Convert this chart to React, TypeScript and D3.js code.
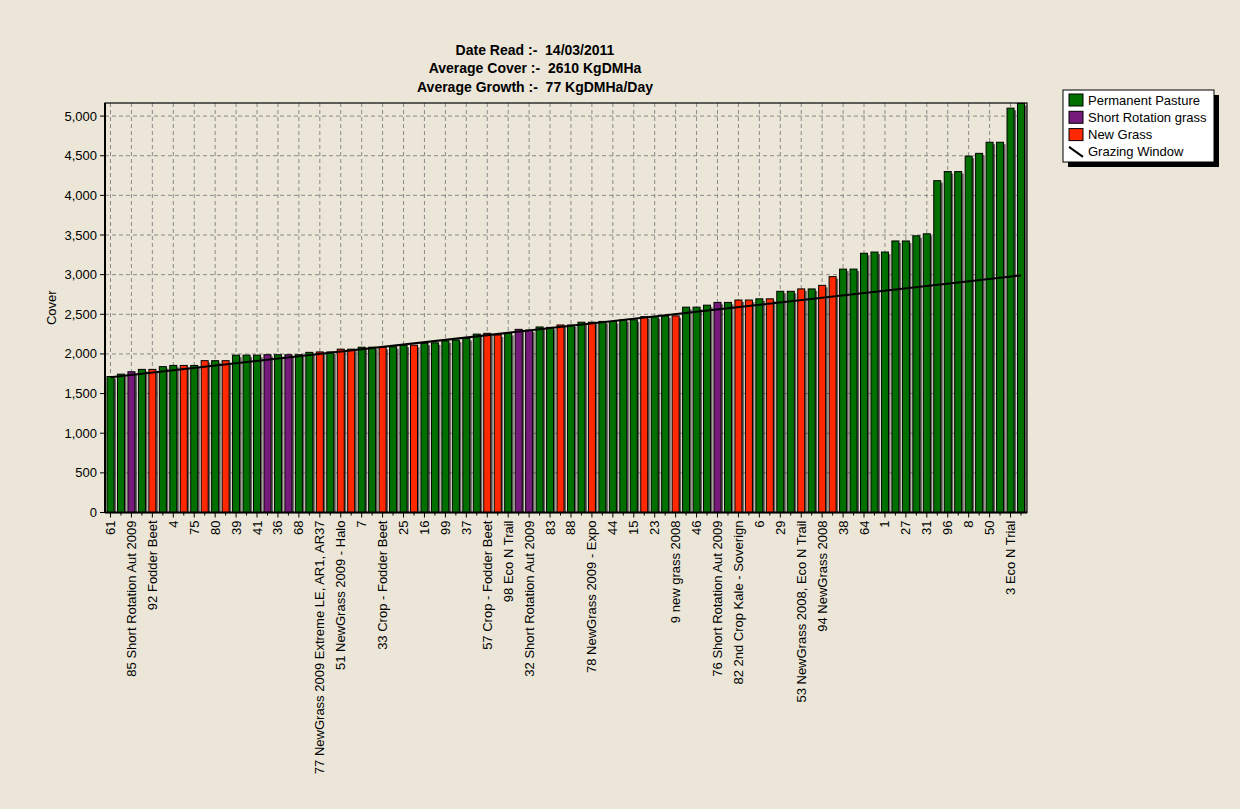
import React, {useRef, useEffect} from "react";
import * as d3 from "d3";

// bar heights, left to right (sorted by cover)
const covers = [
  1715, 1745, 1775, 1805, 1805, 1840, 1855, 1855, 1855, 1915,
  1915, 1915, 1985, 1985, 1985, 1990, 1990, 1990, 1990, 2020,
  2025, 2025, 2060, 2060, 2085, 2085, 2085, 2090, 2110, 2110,
  2135, 2140, 2165, 2175, 2195, 2250, 2260, 2240, 2260, 2310,
  2300, 2340, 2335, 2365, 2365, 2400, 2400, 2410, 2410, 2430,
  2430, 2470, 2470, 2480, 2480, 2590, 2590, 2615, 2650, 2650,
  2680, 2680, 2695, 2695, 2790, 2790, 2820, 2820, 2865, 2975,
  3070, 3070, 3270, 3285, 3285, 3425, 3425, 3490, 3515, 4185,
  4300, 4300, 4495, 4530, 4670, 4670, 5100, 5160,
];

// P = Permanent Pasture, S = Short Rotation grass, N = New Grass
const types = [
  "P", "P", "S", "P", "N", "P", "P", "N", "P", "N",
  "P", "N", "P", "P", "P", "S", "P", "S", "P", "P",
  "N", "P", "N", "N", "P", "P", "N", "P", "P", "N",
  "P", "P", "P", "P", "P", "P", "N", "N", "P", "S",
  "S", "P", "P", "N", "P", "P", "N", "P", "P", "P",
  "P", "N", "P", "P", "N", "P", "P", "P", "S", "P",
  "N", "N", "P", "N", "P", "P", "N", "P", "N", "N",
  "P", "P", "P", "P", "P", "P", "P", "P", "P", "P",
  "P", "P", "P", "P", "P", "P", "P", "P",
];

// only every second bar carries a label
const tickLabels = [
  "61", "85 Short Rotation Aut 2009", "92 Fodder Beet", "4", "75", "80", "39", "41", "36", "68",
  "77 NewGrass 2009 Extreme LE, AR1, AR37", "51 NewGrass 2009 - Halo", "7", "33 Crop - Fodder Beet", "25",
  "16", "99", "37", "57 Crop - Fodder Beet", "98 Eco N Trail",
  "32 Short Rotation Aut 2009", "83", "88", "78 NewGrass 2009 - Expo", "44",
  "15", "23", "9 new grass 2008", "46", "76 Short Rotation Aut 2009",
  "82 2nd Crop Kale - Soverign", "6", "29", "53 NewGrass 2008, Eco N Trail", "94 NewGrass 2008",
  "38", "64", "1", "27", "31", "96", "8", "50", "3 Eco N Trial",
];

const grazingIdx = [0, 87];
const grazingVals = [1705, 2990];

const yTicks = [0, 500, 1000, 1500, 2000, 2500, 3000, 3500, 4000, 4500, 5000];

const titleLines = [
  "Date Read :-  14/03/2011",
  "Average Cover :-  2610 KgDMHa",
  "Average Growth :-  77 KgDMHa/Day",
];

const legendItems = [
  {key: "P", label: "Permanent Pasture"},
  {key: "S", label: "Short Rotation grass"},
  {key: "N", label: "New Grass"},
  {key: "L", label: "Grazing Window"},
];

const typeColors: Record<string, string> = {
  P: "#007000",
  S: "#761a7c",
  N: "#ff2800",
};

const FONT = "Liberation Sans, Arial, sans-serif";
const BG = "#ebe6d7";

export default function App() {
  const svgRef = useRef<SVGSVGElement>(null);

  useEffect(() => {
    if (!svgRef.current) return;
    const svg = d3.select(svgRef.current);
    svg.selectAll("*").remove();

    const left = 105, right = 1027, top = 103, bottom = 512.5;
    const idx = covers.map((_, i) => i);

    const x = d3.scaleBand<number>().domain(idx).range([107, 1024.5]).paddingInner(0.33).paddingOuter(0);
    const y = d3.scaleLinear().domain([0, 5165]).range([bottom, top]);
    const cx = (i: number) => x(i)! + x.bandwidth() / 2;

    svg.append("rect").attr("width", 1240).attr("height", 809).attr("fill", BG);

    // title
    svg.selectAll(".title")
      .data(titleLines)
      .join("text")
      .attr("x", 535)
      .attr("y", (d, i) => 55 + i * 18.3)
      .attr("text-anchor", "middle")
      .style("font-family", FONT)
      .style("font-size", "14px")
      .style("font-weight", "bold")
      .style("white-space", "pre")
      .text((d) => d);

    // grid
    const g = svg.append("g");
    g.selectAll(".grid-y")
      .data(yTicks.filter((d) => d > 0))
      .join("line")
      .attr("x1", left).attr("x2", right)
      .attr("y1", (d) => y(d)).attr("y2", (d) => y(d))
      .attr("stroke", "#8a8a8a")
      .attr("stroke-dasharray", "4,3");
    g.selectAll(".grid-x")
      .data(idx.filter((i) => i % 2 === 0))
      .join("line")
      .attr("x1", (i) => cx(i)).attr("x2", (i) => cx(i))
      .attr("y1", top).attr("y2", bottom)
      .attr("stroke", "#8a8a8a")
      .attr("stroke-dasharray", "4,3");

    // bar shadows + bars
    g.selectAll(".shadow")
      .data(idx)
      .join("rect")
      .attr("x", (i) => x(i)! + 2)
      .attr("y", (i) => y(covers[i]) + 2)
      .attr("width", x.bandwidth())
      .attr("height", (i) => Math.max(0, bottom - y(covers[i]) - 2))
      .attr("fill", "#3a3a3a")
      .attr("opacity", 0.75);
    g.selectAll(".bar")
      .data(idx)
      .join("rect")
      .attr("x", (i) => x(i)!)
      .attr("y", (i) => y(covers[i]))
      .attr("width", x.bandwidth())
      .attr("height", (i) => bottom - y(covers[i]))
      .attr("fill", (i) => typeColors[types[i]])
      .attr("stroke", "#000")
      .attr("stroke-width", 1);

    // grazing window
    const line = d3.line<number>().x((d, k) => cx(grazingIdx[k])).y((d) => y(d));
    g.append("path")
      .attr("d", line(grazingVals))
      .attr("fill", "none")
      .attr("stroke", "#000")
      .attr("stroke-width", 2);

    // frame
    svg.append("rect")
      .attr("x", left).attr("y", top)
      .attr("width", right - left).attr("height", bottom - top)
      .attr("fill", "none").attr("stroke", "#000").attr("stroke-width", 1.2);
    svg.append("line").attr("x1", left).attr("x2", left).attr("y1", top).attr("y2", bottom)
      .attr("stroke", "#000").attr("stroke-width", 2);
    svg.append("line").attr("x1", left).attr("x2", right).attr("y1", bottom).attr("y2", bottom)
      .attr("stroke", "#000").attr("stroke-width", 2);

    // y axis
    const yAxis = svg.append("g");
    yAxis.selectAll("line")
      .data(yTicks)
      .join("line")
      .attr("x1", left - 5).attr("x2", left)
      .attr("y1", (d) => y(d)).attr("y2", (d) => y(d))
      .attr("stroke", "#000");
    yAxis.selectAll("text")
      .data(yTicks)
      .join("text")
      .attr("x", left - 8)
      .attr("y", (d) => y(d))
      .attr("dy", "0.35em")
      .attr("text-anchor", "end")
      .style("font-family", FONT)
      .style("font-size", "13px")
      .text((d) => d3.format(",")(d));
    svg.append("text")
      .attr("transform", `translate(56,${(top + bottom) / 2}) rotate(-90)`)
      .attr("text-anchor", "middle")
      .style("font-family", FONT)
      .style("font-size", "13px")
      .text("Cover");

    // x axis ticks + labels
    const xAxis = svg.append("g");
    xAxis.selectAll(".minor")
      .data(idx)
      .join("line")
      .attr("x1", (i) => cx(i)).attr("x2", (i) => cx(i))
      .attr("y1", bottom).attr("y2", (i) => bottom + (i % 2 === 0 ? 5 : 3))
      .attr("stroke", "#000");
    xAxis.selectAll("text")
      .data(tickLabels)
      .join("text")
      .attr("transform", (d, k) => `translate(${cx(k * 2) + 4.5},${bottom + 8}) rotate(-90)`)
      .attr("text-anchor", "end")
      .style("font-family", FONT)
      .style("font-size", "13px")
      .text((d) => d);

    // legend
    const lg = svg.append("g").attr("transform", "translate(1063,90)");
    lg.append("rect").attr("x", 5).attr("y", 5).attr("width", 151).attr("height", 72).attr("fill", "#000");
    lg.append("rect").attr("width", 151).attr("height", 72).attr("fill", "#fff").attr("stroke", "#000");
    const items = lg.selectAll(".item")
      .data(legendItems)
      .join("g")
      .attr("transform", (d, i) => `translate(0,${10 + i * 17.3})`);
    items.filter((d) => d.key !== "L")
      .append("rect")
      .attr("x", 6).attr("y", -6).attr("width", 14).attr("height", 12)
      .attr("fill", (d) => typeColors[d.key])
      .attr("stroke", "#000");
    items.filter((d) => d.key === "L")
      .append("line")
      .attr("x1", 6).attr("y1", -5).attr("x2", 20).attr("y2", 5)
      .attr("stroke", "#000").attr("stroke-width", 2);
    items.append("text")
      .attr("x", 25)
      .attr("dy", "0.35em")
      .style("font-family", FONT)
      .style("font-size", "13px")
      .text((d) => d.label);

    return () => {
      d3.select(svgRef.current).selectAll("*").remove();
    };
  }, []);

  return (
    <div style={{position: "fixed", left: 0, top: 0}}>
      <svg ref={svgRef} width={1240} height={809} style={{display: "block"}} />
    </div>
  );
}
